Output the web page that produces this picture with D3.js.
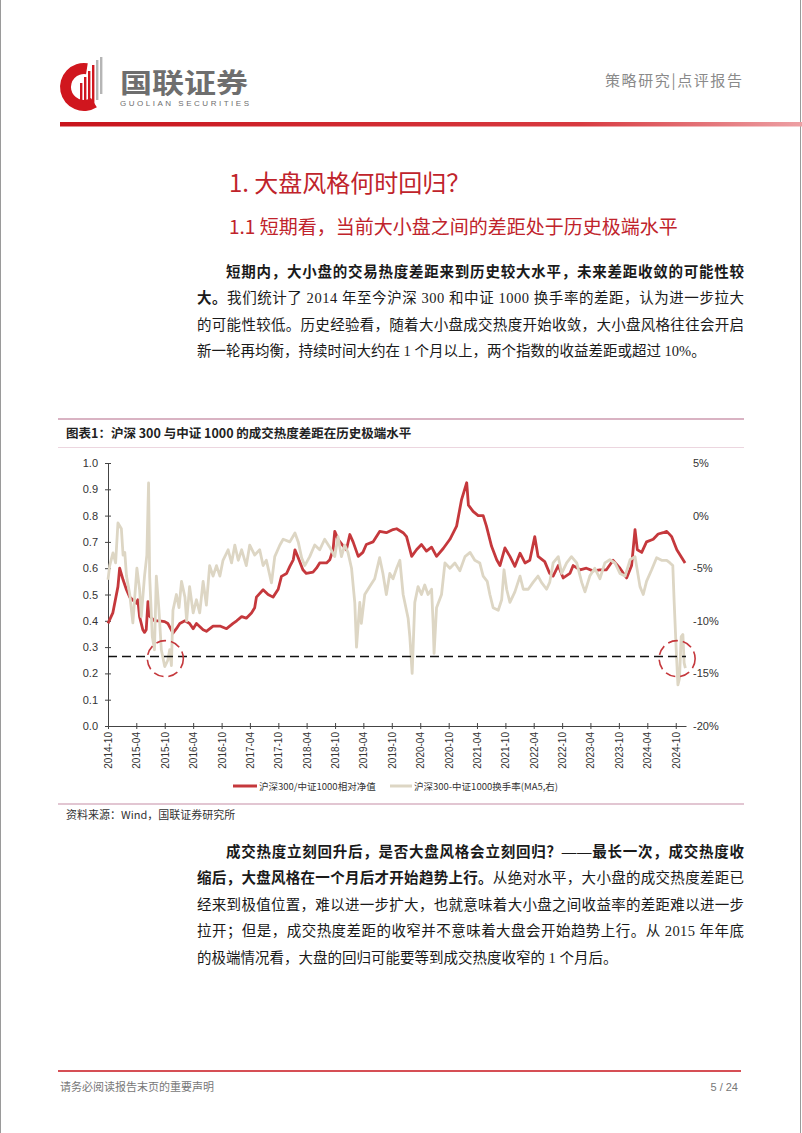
<!DOCTYPE html>
<html>
<head>
<meta charset="utf-8">
<script src="https://cdn.jsdelivr.net/npm/d3@7"></script>
<style>
  body { margin: 0; background: #fff; }
  svg { display: block; }
</style>
</head>
<body>
<svg id="page" width="802" height="1133"></svg>
<script>
// ---- data ----
// 沪深300/中证1000相对净值 (left axis)
var relNav = [
  ["2014-10-01",0.39],["2014-11-01",0.43],["2014-12-04",0.53],["2014-12-15",0.60],["2015-01-06",0.556],
  ["2015-01-28",0.518],["2015-02-18",0.49],["2015-04-01",0.467],["2015-04-11",0.48],["2015-04-22",0.416],
  ["2015-05-13",0.366],["2015-05-24",0.356],["2015-06-04",0.366],["2015-06-15",0.473],["2015-06-21",0.42],
  ["2015-07-27",0.40],["2015-08-28",0.40],["2015-10-01",0.397],["2015-10-21",0.39],["2015-11-23",0.353],
  ["2015-12-15",0.37],["2016-01-06",0.39],["2016-02-08",0.40],["2016-03-09",0.39],["2016-04-01",0.37],
  ["2016-04-22",0.39],["2016-06-04",0.366],["2016-06-25",0.36],["2016-08-07",0.38],["2016-09-20",0.38],
  ["2016-11-02",0.37],["2016-12-14",0.39],["2017-01-06",0.40],["2017-02-07",0.416],["2017-03-09",0.41],
  ["2017-04-11",0.43],["2017-05-02",0.45],["2017-05-13",0.49],["2017-06-25",0.518],["2017-07-27",0.50],
  ["2017-08-28",0.49],["2017-09-30",0.52],["2017-10-21",0.569],["2017-11-23",0.58],["2017-12-14",0.607],
  ["2018-01-05",0.632],["2018-01-16",0.67],["2018-02-06",0.64],["2018-03-08",0.594],["2018-03-30",0.58],
  ["2018-05-12",0.585],["2018-06-03",0.60],["2018-06-24",0.62],["2018-08-07",0.62],["2018-08-28",0.632],
  ["2018-09-18",0.67],["2018-09-29",0.74],["2018-10-20",0.71],["2018-11-22",0.685],["2018-12-13",0.67],
  ["2019-01-04",0.728],["2019-01-25",0.70],["2019-02-27",0.645],["2019-03-29",0.66],["2019-04-20",0.69],
  ["2019-06-02",0.70],["2019-07-15",0.74],["2019-08-27",0.735],["2019-10-09",0.747],["2019-11-01",0.75],
  ["2019-12-13",0.735],["2020-01-04",0.72],["2020-02-06",0.645],["2020-03-08",0.67],["2020-04-09",0.69],
  ["2020-05-11",0.665],["2020-06-13",0.68],["2020-07-15",0.645],["2020-08-27",0.675],["2020-10-09",0.71],
  ["2020-11-21",0.76],["2020-12-23",0.861],["2021-01-25",0.925],["2021-02-05",0.84],["2021-03-07",0.816],
  ["2021-04-09",0.80],["2021-05-11",0.80],["2021-06-01",0.76],["2021-07-04",0.683],["2021-08-06",0.632],
  ["2021-08-27",0.61],["2021-09-28",0.677],["2021-10-30",0.645],["2021-12-01",0.607],["2022-01-03",0.657],
  ["2022-02-04",0.62],["2022-03-07",0.63],["2022-04-08",0.72],["2022-04-29",0.645],["2022-06-11",0.625],
  ["2022-07-13",0.58],["2022-08-04",0.57],["2022-09-06",0.61],["2022-10-08",0.563],["2022-11-20",0.58],
  ["2022-12-11",0.61],["2023-01-24",0.594],["2023-03-06",0.60],["2023-04-18",0.59],["2023-06-01",0.594],
  ["2023-07-13",0.594],["2023-08-25",0.63],["2023-10-08",0.60],["2023-11-20",0.563],["2023-12-22",0.61],
  ["2024-01-13",0.747],["2024-01-28",0.67],["2024-02-25",0.66],["2024-03-27",0.70],["2024-05-09",0.71],
  ["2024-06-10",0.73],["2024-07-12",0.735],["2024-08-04",0.74],["2024-09-05",0.72],["2024-10-08",0.67],
  ["2024-11-09",0.64],["2024-11-30",0.62]
];

// 沪深300-中证1000换手率 (MA5, right axis, %)
var turnoverGap = [
  ["2014-10-01",-6.1],["2014-10-12",-4.75],["2014-11-02",-3.55],["2014-11-19",-4.5],["2014-12-04",-0.7],
  ["2014-12-26",-1.25],["2015-01-06",-3.75],["2015-01-17",-3.5],["2015-01-28",-5.75],["2015-02-18",-7.5],
  ["2015-03-10",-10.2],["2015-03-21",-8.0],["2015-04-05",-5.0],["2015-04-22",-7.0],["2015-05-03",-9.6],
  ["2015-05-24",-5.75],["2015-06-08",-3.75],["2015-06-19",3.1],["2015-06-26",-5.75],["2015-07-13",-11.5],
  ["2015-07-27",-12.75],["2015-08-08",-5.75],["2015-08-25",-9.0],["2015-09-09",-12.75],["2015-10-01",-14.35],
  ["2015-10-21",-13.75],["2015-11-02",-12.75],["2015-11-13",-14.25],["2015-11-23",-9.0],["2015-12-15",-7.5],
  ["2016-01-01",-8.75],["2016-01-17",-6.25],["2016-02-08",-7.75],["2016-02-19",-10.0],["2016-03-09",-6.75],
  ["2016-04-01",-9.25],["2016-04-22",-8.0],["2016-05-13",-9.25],["2016-06-04",-6.25],["2016-06-25",-8.5],
  ["2016-07-16",-4.75],["2016-08-07",-5.75],["2016-08-29",-4.75],["2016-09-20",-5.75],["2016-10-10",-4.25],
  ["2016-11-12",-3.25],["2016-12-04",-4.5],["2016-12-25",-2.8],["2017-01-16",-4.25],["2017-02-07",-3.25],
  ["2017-03-09",-4.75],["2017-03-31",-2.8],["2017-05-02",-3.75],["2017-06-03",-3.25],["2017-06-25",-4.75],
  ["2017-07-16",-4.25],["2017-08-18",-6.4],["2017-09-08",-3.9],["2017-10-11",-2.8],["2017-11-01",-2.25],
  ["2017-12-14",-2.5],["2018-01-16",-1.65],["2018-02-06",-2.5],["2018-02-28",-4.0],["2018-03-20",-4.75],
  ["2018-04-21",-3.9],["2018-05-23",-2.8],["2018-06-24",-3.25],["2018-07-26",-2.25],["2018-08-28",-3.0],
  ["2018-09-29",-3.9],["2018-10-20",-2.0],["2018-11-11",-3.9],["2018-12-02",-2.8],["2018-12-23",-3.5],
  ["2019-01-15",-5.0],["2019-02-05",-8.3],["2019-02-16",-12.5],["2019-03-09",-8.25],["2019-03-19",-10.25],
  ["2019-04-10",-7.5],["2019-05-12",-6.75],["2019-06-13",-6.0],["2019-07-15",-4.0],["2019-08-05",-5.5],
  ["2019-08-27",-7.5],["2019-09-18",-5.5],["2019-10-09",-6.0],["2019-11-01",-5.0],["2019-11-22",-4.25],
  ["2019-12-13",-7.5],["2020-01-14",-9.75],["2020-01-25",-11.5],["2020-02-09",-15.0],["2020-02-26",-8.25],
  ["2020-03-18",-6.75],["2020-04-09",-7.5],["2020-04-30",-6.6],["2020-05-21",-7.5],["2020-06-13",-7.0],
  ["2020-06-23",-10.25],["2020-06-29",-13.1],["2020-07-15",-8.75],["2020-08-16",-7.5],["2020-09-07",-4.5],
  ["2020-10-09",-5.0],["2020-11-10",-4.5],["2020-12-12",-5.25],["2021-01-14",-3.9],["2021-02-16",-3.5],
  ["2021-03-18",-4.25],["2021-04-19",-4.5],["2021-05-11",-5.75],["2021-06-06",-6.25],["2021-06-23",-7.5],
  ["2021-07-14",-8.75],["2021-08-16",-9.0],["2021-09-07",-8.0],["2021-09-22",-5.15],["2021-10-09",-7.0],
  ["2021-10-30",-8.25],["2021-12-01",-7.25],["2022-01-03",-5.75],["2022-01-24",-7.0],["2022-02-25",-7.0],
  ["2022-03-28",-6.35],["2022-04-29",-5.75],["2022-05-21",-6.35],["2022-06-23",-7.0],["2022-07-13",-6.35],
  ["2022-08-04",-4.5],["2022-09-06",-3.9],["2022-09-28",-5.5],["2022-10-30",-4.5],["2022-11-30",-3.9],
  ["2023-01-03",-4.5],["2023-02-04",-6.35],["2023-02-25",-7.25],["2023-03-28",-5.75],["2023-04-29",-5.0],
  ["2023-06-01",-6.0],["2023-07-03",-4.5],["2023-08-04",-4.2],["2023-09-06",-4.5],["2023-10-08",-5.5],
  ["2023-11-10",-5.75],["2023-12-12",-4.2],["2024-01-13",-3.9],["2024-02-14",-6.75],["2024-03-06",-7.5],
  ["2024-03-27",-6.25],["2024-04-29",-5.15],["2024-05-31",-4.0],["2024-07-02",-4.25],["2024-08-04",-4.25],
  ["2024-08-25",-4.5],["2024-09-12",-4.75],["2024-09-21",-8.25],["2024-10-04",-12.75],["2024-10-15",-16.1],
  ["2024-10-25",-15.5],["2024-11-05",-11.5],["2024-11-16",-11.3],["2024-11-24",-14.0],["2024-12-02",-14.5]
];

var xTickLabels = ["2014-10","2015-04","2015-10","2016-04","2016-10","2017-04","2017-10","2018-04","2018-10",
  "2019-04","2019-10","2020-04","2020-10","2021-04","2021-10","2022-04","2022-10","2023-04","2023-10",
  "2024-04","2024-10"];
var leftTicks = [0,0.1,0.2,0.3,0.4,0.5,0.6,0.7,0.8,0.9,1.0];
var rightTicks = [-20,-15,-10,-5,0,5];
var thresholdPct = -13.4;                       // dashed reference line, right axis
var highlightDates = ["2015-10-05","2024-10-10"]; // dashed circles
var seriesNames = ["沪深300/中证1000相对净值", "沪深300-中证1000换手率(MA5,右)"];

var para1 = [
  {indent: true, justify: true, parts: [["短期内，大小盘的交易热度差距来到历史较大水平，未来差距收敛的可能性较", true]]},
  {indent: false, justify: true, parts: [["大。", true], ["我们统计了 2014 年至今沪深 300 和中证 1000 换手率的差距，认为进一步拉大", false]]},
  {indent: false, justify: true, parts: [["的可能性较低。历史经验看，随着大小盘成交热度开始收敛，大小盘风格往往会开启", false]]},
  {indent: false, justify: false, parts: [["新一轮再均衡，持续时间大约在 1 个月以上，两个指数的收益差距或超过 10%。", false]]}
];
var para2 = [
  {indent: true, justify: true, parts: [["成交热度立刻回升后，是否大盘风格会立刻回归？——最长一次，成交热度收", true]]},
  {indent: false, justify: true, parts: [["缩后，大盘风格在一个月后才开始趋势上行。", true], ["从绝对水平，大小盘的成交热度差距已", false]]},
  {indent: false, justify: true, parts: [["经来到极值位置，难以进一步扩大，也就意味着大小盘之间收益率的差距难以进一步", false]]},
  {indent: false, justify: true, parts: [["拉开；但是，成交热度差距的收窄并不意味着大盘会开始趋势上行。从 2015 年年底", false]]},
  {indent: false, justify: false, parts: [["的极端情况看，大盘的回归可能要等到成交热度收窄的 1 个月后。", false]]}
];

// ---- page ----
var cjk = "'Noto Sans CJK SC', sans-serif";
var sans = "'Liberation Sans', Arial, 'Noto Sans CJK SC', sans-serif";
var serif = "'Liberation Serif', 'Noto Sans CJK SC', serif";
var red = "#c0232b";

var svg = d3.select("#page");
var defs = svg.append("defs");

// page borders
svg.append("line").attr("x1", 0.5).attr("x2", 0.5).attr("y1", 0).attr("y2", 1133).attr("stroke", "#9a9a9a");
svg.append("line").attr("x1", 800.5).attr("x2", 800.5).attr("y1", 0).attr("y2", 1133).attr("stroke", "#9a9a9a");

// header logo
var logo = svg.append("g").attr("transform", "translate(84,87)");
logo.append("path")
  .attr("d", d3.arc().innerRadius(13).outerRadius(24).startAngle(Math.PI * 0.82).endAngle(Math.PI * 2.05)())
  .attr("fill", "#d0161e");
[[-4, 4, 16], [0, 10, 18], [4, 16, 19], [8, 22, 17], [12, 27, 13], [16, 30, 7]].forEach(function (b, i) {
  logo.append("rect").attr("x", b[0]).attr("y", -b[1]).attr("width", 2.4).attr("height", b[1] + b[2])
    .attr("fill", i >= 4 ? "#b5b5b5" : "#d0161e");
});

svg.append("text").attr("x", 120).attr("y", 93).attr("textLength", 128).attr("lengthAdjust", "spacingAndGlyphs")
  .style("font-family", cjk).style("font-size", "27px").style("font-weight", 700).attr("fill", "#6e6e6e")
  .text("国联证券");
svg.append("text").attr("x", 120).attr("y", 106).attr("textLength", 129)
  .style("font-family", sans).style("font-size", "8px").attr("fill", "#6e6e6e")
  .text("GUOLIAN SECURITIES");

svg.append("text").attr("x", 605).attr("y", 86).attr("textLength", 137)
  .style("font-family", cjk).style("font-size", "15px").attr("fill", "#8a8a8a")
  .text("策略研究|点评报告");

var grad = defs.append("linearGradient").attr("id", "hdr");
grad.append("stop").attr("offset", "0%").attr("stop-color", "#c8141c");
grad.append("stop").attr("offset", "70%").attr("stop-color", "#d83a40");
grad.append("stop").attr("offset", "100%").attr("stop-color", "#eda0a4");
svg.append("rect").attr("x", 60).attr("y", 122).attr("width", 742).attr("height", 4.5).attr("fill", "url(#hdr)");

// headings
svg.append("text").attr("x", 229).attr("y", 192)
  .style("font-family", cjk).style("font-size", "24px").attr("fill", red).text("1. 大盘风格何时回归？");
svg.append("text").attr("x", 229).attr("y", 234)
  .style("font-family", cjk).style("font-size", "19px").attr("fill", red).text("1.1 短期看，当前大小盘之间的差距处于历史极端水平");

// body paragraphs
var textLeft = 197, textRight = 744, indentLeft = 226;
function drawParagraph(lines, firstBaseline) {
  lines.forEach(function (ln, i) {
    var x0 = ln.indent ? indentLeft : textLeft;
    var t = svg.append("text").attr("x", x0).attr("y", firstBaseline + i * 26.6)
      .style("font-family", serif).style("font-size", "14.5px").attr("fill", "#1a1a1a");
    if (ln.justify) t.attr("textLength", textRight - x0).attr("lengthAdjust", "spacing");
    ln.parts.forEach(function (p) {
      t.append("tspan").style("font-weight", p[1] ? 700 : 400).text(p[0]);
    });
  });
}
drawParagraph(para1, 276.5);
drawParagraph(para2, 856.5);

// chart frame
var blockL = 58, blockR = 744;
svg.append("line").attr("x1", blockL).attr("x2", blockR).attr("y1", 419).attr("y2", 419)
  .attr("stroke", "#d9b3c3").attr("stroke-width", 2);
svg.append("text").attr("x", 66).attr("y", 438)
  .style("font-family", cjk).style("font-size", "12.5px").style("font-weight", 700).attr("fill", "#222")
  .text("图表1：沪深 300 与中证 1000 的成交热度差距在历史极端水平");
svg.append("line").attr("x1", blockL).attr("x2", blockR).attr("y1", 447.5).attr("y2", 447.5)
  .attr("stroke", "#ecd6df").attr("stroke-width", 1);
svg.append("line").attr("x1", blockL).attr("x2", blockR).attr("y1", 804).attr("y2", 804)
  .attr("stroke", "#d9b3c3").attr("stroke-width", 1.5);
svg.append("text").attr("x", 66).attr("y", 819)
  .style("font-family", cjk).style("font-size", "11px").attr("fill", "#333")
  .text("资料来源：Wind，国联证券研究所");

// ---- chart ----
var parse = d3.timeParse("%Y-%m-%d");
var nav = relNav.map(function (d) { return {date: parse(d[0]), v: d[1]}; });
var gap = turnoverGap.map(function (d) { return {date: parse(d[0]), v: d[1]}; });

var x = d3.scaleTime().domain([parse("2014-10-01"), parse("2024-12-06")]).range([108, 686]);
var yL = d3.scaleLinear().domain([0, 1]).range([726, 463]);
var yR = d3.scaleLinear().domain([-20, 5]).range([726, 463]);

var g = svg.append("g");

var xAxis = g.append("g").attr("transform", "translate(0,726)")
  .call(d3.axisBottom(x)
    .tickValues(xTickLabels.map(d3.timeParse("%Y-%m")))
    .tickFormat(d3.timeFormat("%Y-%m"))
    .tickSize(3).tickSizeOuter(0));
xAxis.selectAll(".tick line").attr("y1", -3).attr("y2", 3).attr("stroke", "#444");
xAxis.select(".domain").attr("stroke", "#444");
xAxis.selectAll("text")
  .attr("transform", "rotate(-90)").attr("x", -6).attr("y", 0).attr("dy", "0.35em")
  .style("text-anchor", "end").style("font-family", sans).style("font-size", "10px").attr("fill", "#333");

var lAxis = g.append("g").attr("transform", "translate(108,0)")
  .call(d3.axisLeft(yL).tickValues(leftTicks).tickFormat(d3.format(".1f")).tickSize(3).tickSizeOuter(0));
lAxis.selectAll(".tick line").attr("x1", 3).attr("x2", -3).attr("stroke", "#444");
lAxis.select(".domain").attr("stroke", "#444");
lAxis.selectAll("text").attr("x", -10).style("font-family", sans).style("font-size", "11px").attr("fill", "#333");

var rAxis = g.append("g").attr("transform", "translate(686,0)")
  .call(d3.axisRight(yR).tickValues(rightTicks).tickFormat(function (d) { return d + "%"; }).tickSize(0));
rAxis.select(".domain").remove();
rAxis.selectAll("text").attr("x", 7).style("font-family", sans).style("font-size", "11px").attr("fill", "#333");

var lineL = d3.line().x(function (d) { return x(d.date); }).y(function (d) { return yL(d.v); });
var lineR = d3.line().x(function (d) { return x(d.date); }).y(function (d) { return yR(d.v); });

g.append("path").datum(nav).attr("d", lineL).attr("fill", "none")
  .attr("stroke", "#c5383c").attr("stroke-width", 2.8).attr("stroke-linejoin", "round");
g.append("path").datum(gap).attr("d", lineR).attr("fill", "none")
  .attr("stroke", "#ddd6c4").attr("stroke-width", 2.8).attr("stroke-linejoin", "round");

// threshold
g.append("line").attr("x1", x.range()[0]).attr("x2", x.range()[1])
  .attr("y1", yR(thresholdPct)).attr("y2", yR(thresholdPct))
  .attr("stroke", "#111").attr("stroke-width", 1.5).attr("stroke-dasharray", "9,5");

g.selectAll("circle.hl").data(highlightDates).enter().append("circle")
  .attr("class", "hl")
  .attr("cx", function (d) { return x(parse(d)); })
  .attr("cy", yR(thresholdPct - 0.2))
  .attr("r", 18).attr("fill", "none")
  .attr("stroke", "#c5383c").attr("stroke-width", 1.6).attr("stroke-dasharray", "10,5");

// legend
var legend = g.append("g").attr("transform", "translate(233,786)");
var legendItems = [{name: seriesNames[0], color: "#c5383c", x: 0, len: 24},
                   {name: seriesNames[1], color: "#ddd6c4", x: 157, len: 22}];
legendItems.forEach(function (it) {
  legend.append("line").attr("x1", it.x).attr("x2", it.x + it.len).attr("y1", 0).attr("y2", 0)
    .attr("stroke", it.color).attr("stroke-width", 3);
  legend.append("text").attr("x", it.x + it.len + 2).attr("y", 3.5)
    .style("font-family", cjk).style("font-size", "9.5px").attr("fill", "#333").text(it.name);
});

// footer
svg.append("line").attr("x1", 58).attr("x2", 741).attr("y1", 1071).attr("y2", 1071)
  .attr("stroke", "#c8141c").attr("stroke-width", 1.5);
svg.append("text").attr("x", 60).attr("y", 1091)
  .style("font-family", cjk).style("font-size", "11px").attr("fill", "#777").text("请务必阅读报告末页的重要声明");
svg.append("text").attr("x", 738).attr("y", 1091).attr("text-anchor", "end")
  .style("font-family", sans).style("font-size", "11px").attr("fill", "#777").text("5 / 24");
</script>
</body>
</html>
